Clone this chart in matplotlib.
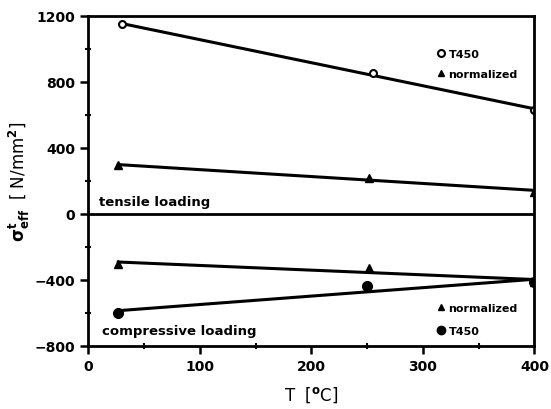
import numpy as np
import matplotlib
matplotlib.use("Agg")
import matplotlib.pyplot as plt
from matplotlib.lines import Line2D

# Data
temp_t450_tens = [30, 255, 400]
sig_t450_tens = [1148, 853, 628]
temp_norm_tens = [27, 252, 400]
sig_norm_tens = [293, 218, 134]
temp_norm_comp = [27, 252, 400]
sig_norm_comp = [-303, -328, -415]
temp_t450_comp = [27, 250, 400]
sig_t450_comp = [-600, -440, -416]

xticks = [0, 100, 200, 300, 400]
yticks = [-800, -400, 0, 400, 800, 1200]

plt.rcParams['font.family'] = ['DejaVu Sans']
plt.rcParams['font.weight'] = 'bold'

fig = plt.figure(figsize=(5.51, 4.10), dpi=100)
ax = fig.add_axes([0.16, 0.154, 0.81, 0.805])

def fitline(x, y):
    p = np.polyfit(x, y, 1)
    xs = np.array([min(x), max(x)])
    return xs, np.polyval(p, xs)

lw = 2.2
xs, ys = fitline(temp_t450_tens, sig_t450_tens)
ax.plot(xs, ys, color='black', lw=lw)
ax.plot(temp_t450_tens, sig_t450_tens, 'o', mfc='white', mec='black', mew=1.5, ms=5)
xs, ys = fitline(temp_norm_tens, sig_norm_tens)
ax.plot(xs, ys, color='black', lw=lw)
ax.plot(temp_norm_tens, sig_norm_tens, '^', color='black', ms=6)
xs, ys = fitline(temp_norm_comp, sig_norm_comp)
ax.plot(xs, ys, color='black', lw=lw)
ax.plot(temp_norm_comp, sig_norm_comp, '^', color='black', ms=6)
xs, ys = fitline(temp_t450_comp, sig_t450_comp)
ax.plot(xs, ys, color='black', lw=lw)
ax.plot(temp_t450_comp, sig_t450_comp, 'o', color='black', ms=7)

ax.axhline(0, color='black', lw=2)

ax.set_xlim(0, 400)
ax.set_ylim(-800, 1200)
ax.set_xticks(xticks)
ax.set_yticks(yticks)
ax.set_xticks([50, 150, 250, 350], minor=True)
ax.set_yticks([-600, -200, 200, 600, 1000], minor=True)
ax.tick_params(which='major', direction='out', length=6, width=1.8, labelsize=10)
ax.tick_params(which='minor', direction='inout', length=5, width=1.5)
for lab in ax.get_xticklabels() + ax.get_yticklabels():
    lab.set_fontweight('bold')
for s in ax.spines.values():
    s.set_linewidth(2)

ax.set_xlabel(r'T  [$^{\mathrm{o}}$C]', fontsize=12, labelpad=8)
ax.set_ylabel(r'$\mathbf{\sigma^{t}_{eff}}$  [ N/mm$^{\mathbf{2}}$]', fontsize=12, labelpad=2)

ax.text(10, 75, 'tensile loading', fontsize=9.5, fontweight='bold', va='center')
ax.text(12, -705, 'compressive loading', fontsize=9.5, fontweight='bold', va='center')

h1 = [Line2D([], [], ls='none', marker='o', mfc='white', mec='black', mew=1.5, ms=5),
      Line2D([], [], ls='none', marker='^', color='black', ms=5)]
leg1 = ax.legend(h1, ['T450', 'normalized'], loc='upper right', bbox_to_anchor=(0.985, 0.93),
                 frameon=False, handlelength=0.6, handletextpad=0.4, labelspacing=0.9,
                 prop={'size': 8, 'weight': 'bold'})
ax.add_artist(leg1)
h2 = [Line2D([], [], ls='none', marker='^', color='black', ms=5),
      Line2D([], [], ls='none', marker='o', color='black', ms=6)]
ax.legend(h2, ['normalized', 'T450'], loc='lower right', bbox_to_anchor=(0.985, 0.0),
          frameon=False, handlelength=0.6, handletextpad=0.4, labelspacing=1.2,
          prop={'size': 8, 'weight': 'bold'})

fig.savefig('out.png', dpi=100)
